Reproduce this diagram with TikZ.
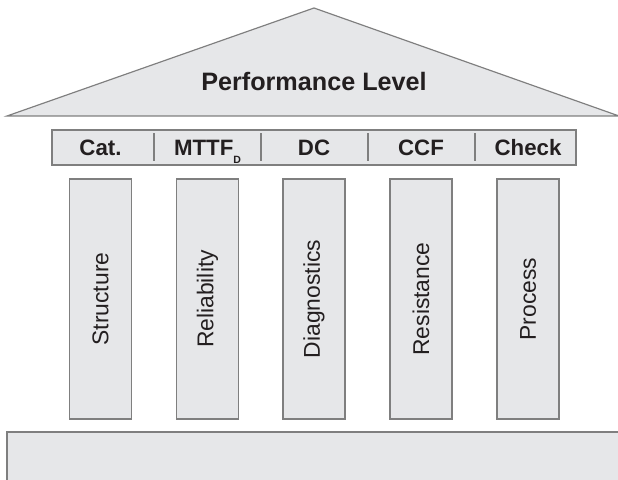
\documentclass[tikz,border=0pt]{standalone}
\usepackage{fontspec}
\setmainfont{Liberation Sans}
\definecolor{stone}{HTML}{E6E7E9}
\definecolor{edgegray}{HTML}{7F7F7F}
\definecolor{ink}{HTML}{231F20}
\begin{document}
\begin{tikzpicture}[x=0.03cm,y=0.03cm,every node/.style={text=ink,inner sep=0pt},
  block/.style={draw=edgegray,line width=1pt,fill=stone},
  barlabel/.style={anchor=base,font=\fontsize{19}{21}\selectfont\bfseries},
  pillar/.style={block,rotate=90,minimum width=7.2cm,minimum height=1.86cm,font=\fontsize{19.5}{21}\selectfont}]
\useasboundingbox (0,0) rectangle (618,480);
\clip (0,0) rectangle (618,480);
\draw[block] (7,364) coordinate (eaveL) -- (314,472) coordinate (apex) -- (619,364) coordinate (eaveR) -- cycle;
\node[anchor=base,font=\fontsize{21.5}{24}\selectfont\bfseries] (level) at (314,389.3) {Performance Level};
\node[block,minimum width=15.72cm,minimum height=1.05cm] (beam) at (314,332.5) {};
\foreach \x in {154,261,368,475} \draw[edgegray,line width=1pt] (\x,319) -- (\x,347);
\foreach \i/\x/\t in {cat/100.5/{Cat.},mttf/207.5/{MTTF{\fontsize{9}{10}\selectfont\raisebox{-6pt}{D}}},dc/314/{DC},ccf/421/{CCF},check/528/{Check}}
  \node[barlabel] (\i) at (\x,324) {\t};
\foreach \i/\x/\t in {structure/100.5/Structure,reliability/207.5/Reliability,diagnostics/314/Diagnostics,resistance/421/Resistance,process/528/Process}
  \node[pillar] (\i) at (\x,181) {\t};
\draw[block] (7,-5) rectangle (625,48);
\end{tikzpicture}
\end{document}
